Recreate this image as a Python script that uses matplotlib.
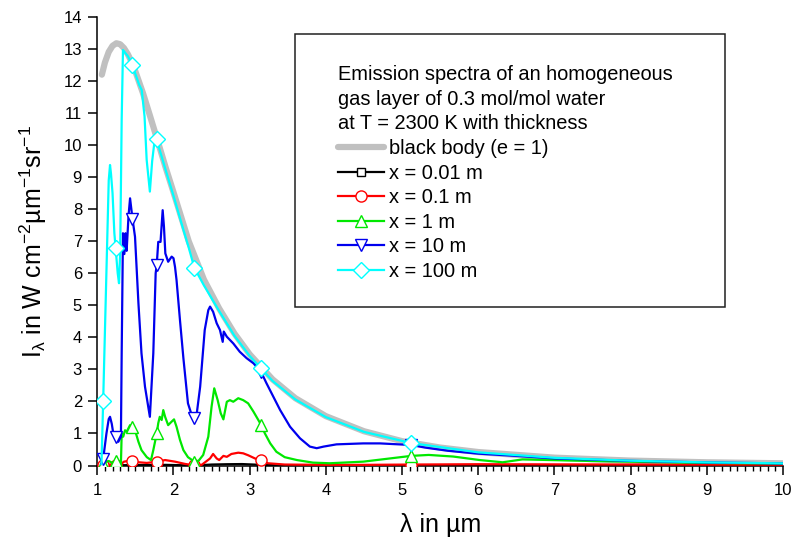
import numpy as np
import matplotlib
matplotlib.use("Agg")
import matplotlib.pyplot as plt
from matplotlib.patches import Rectangle
from matplotlib.ticker import MultipleLocator

plt.rcParams['font.family'] = ['Liberation Sans', 'DejaVu Sans']
plt.rcParams['mathtext.fontset'] = 'custom'
plt.rcParams['mathtext.rm'] = 'Liberation Sans'
plt.rcParams['mathtext.it'] = 'Liberation Sans:italic'
plt.rcParams['mathtext.bf'] = 'Liberation Sans:bold'

# ---------------- data ----------------
mark_lam = [1.077, 1.24, 1.462, 1.78, 2.274, 3.15, 5.12]

lam_bb = [1.06, 1.10, 1.15, 1.20, 1.25, 1.30, 1.35, 1.40, 1.45, 1.50, 1.60, 1.70,
          1.80, 1.90, 2.00, 2.20, 2.40, 2.60, 2.80, 3.00, 3.30, 3.60, 4.00, 4.50,
          5.00, 5.50, 6.00, 7.00, 8.00, 9.00, 10.0]
I_bb = [12.20, 12.58, 12.91, 13.10, 13.18, 13.15, 13.03, 12.84, 12.60, 12.30, 11.62, 10.85,
        10.07, 9.28, 8.53, 7.00, 5.80, 4.90, 4.12, 3.47, 2.69, 2.10, 1.54, 1.07,
        0.76, 0.56, 0.42, 0.245, 0.153, 0.100, 0.069]

lam_001 = [1.05, 1.077, 1.24, 1.35, 1.462, 1.78, 1.90, 2.274, 2.50, 2.70, 2.90, 3.15,
           3.50, 5.12, 7.0, 10.0]
I_001 = [0.0, 0.0, 0.0, 0.01, 0.015, 0.015, 0.02, 0.0, 0.03, 0.04, 0.045, 0.02,
         0.0, 0.0, 0.0, 0.0]

lam_01 = [1.05, 1.077, 1.15, 1.24, 1.30, 1.35, 1.40, 1.462, 1.55, 1.65, 1.78, 1.89,
          2.02, 2.15, 2.23, 2.274, 2.37, 2.48, 2.52, 2.567, 2.60, 2.655, 2.70, 2.76,
          2.85, 2.915, 2.98, 3.07, 3.15, 3.24, 3.46, 4.0, 4.5, 5.12, 6.0, 7.0, 8.0, 10.0]
I_01 = [0.0, 0.01, 0.03, 0.02, 0.02, 0.12, 0.14, 0.13, 0.10, 0.08, 0.12, 0.17,
        0.12, 0.05, 0.02, 0.02, 0.02, 0.22, 0.36, 0.22, 0.17, 0.30, 0.27, 0.36,
        0.40, 0.38, 0.32, 0.22, 0.16, 0.07, 0.03, 0.02, 0.02, 0.03, 0.04, 0.035, 0.03, 0.025]

lam_1 = [1.05, 1.077, 1.12, 1.15, 1.20, 1.24, 1.28, 1.31, 1.32, 1.34, 1.364, 1.385,
         1.43, 1.462, 1.495, 1.54, 1.58, 1.65, 1.705, 1.735, 1.78, 1.80, 1.82, 1.845,
         1.866, 1.89, 1.93, 1.976, 2.007, 2.04, 2.085, 2.13, 2.19, 2.274, 2.33, 2.39,
         2.457, 2.50, 2.535, 2.58, 2.62, 2.655, 2.70, 2.74, 2.785, 2.85, 2.915, 2.98,
         3.05, 3.15, 3.20, 3.27, 3.35, 3.46, 3.62, 3.83, 4.05, 4.49, 4.84, 5.12,
         5.35, 5.67, 6.02, 6.32, 6.58, 7.5, 8.0, 9.0, 10.0]
I_1 = [0.0, 0.05, 0.12, 0.14, 0.08, 0.15, 0.10, 0.05, 1.0, 0.9, 1.1, 1.05,
       1.26, 1.19, 1.10, 0.74, 0.48, 0.26, 0.17, 0.48, 1.0, 1.32, 1.52, 1.42,
       1.73, 1.52, 1.26, 1.37, 1.44, 1.21, 0.80, 0.48, 0.26, 0.12, 0.15, 0.33,
       0.90, 1.84, 2.41, 2.04, 1.63, 1.44, 1.99, 2.04, 1.99, 2.10, 2.04, 1.94,
       1.68, 1.27, 1.0, 0.69, 0.43, 0.26, 0.17, 0.09, 0.07, 0.12, 0.22, 0.30,
       0.33, 0.28, 0.17, 0.10, 0.19, 0.14, 0.12, 0.08, 0.06]

lam_10 = [1.05, 1.077, 1.12, 1.15, 1.167, 1.19, 1.21, 1.24, 1.276, 1.31,
          1.32, 1.337, 1.355, 1.37, 1.385, 1.41, 1.43, 1.462, 1.495, 1.54,
          1.58, 1.626, 1.69, 1.735, 1.766, 1.78, 1.80, 1.83, 1.858, 1.875,
          1.893, 1.93, 1.976, 2.00, 2.02, 2.04, 2.085, 2.13, 2.19, 2.26,
          2.274, 2.30, 2.35, 2.41, 2.457, 2.48, 2.52, 2.567, 2.61, 2.646,
          2.66, 2.70, 2.785, 2.87, 2.96, 3.05, 3.15, 3.22, 3.31, 3.40,
          3.53, 3.66, 3.79, 3.88, 3.97, 4.14, 4.49, 4.71, 5.12, 5.30,
          5.60, 6.00, 6.50, 7.00, 8.00, 9.00, 10.0]
I_10 = [0.05, 0.20, 1.0, 1.45, 1.52, 1.3, 1.0, 0.90, 0.74, 0.90,
        3.5, 7.25, 6.6, 7.25, 6.7, 7.8, 8.34, 7.70, 7.14, 5.06,
        3.50, 2.46, 1.52, 3.50, 6.0, 6.26, 6.98, 6.98, 7.97, 7.45,
        6.62, 6.36, 6.52, 6.47, 6.20, 5.79, 4.54, 3.35, 1.94, 1.42,
        1.47, 1.52, 2.46, 4.23, 4.85, 4.96, 4.80, 4.44, 4.23, 3.86,
        4.18, 4.02, 3.81, 3.55, 3.35, 3.19, 2.92, 2.57, 2.15, 1.73,
        1.21, 0.85, 0.59, 0.54, 0.59, 0.66, 0.69, 0.69, 0.64, 0.56,
        0.46, 0.37, 0.30, 0.22, 0.145, 0.095, 0.065]

lam_100 = [1.055, 1.077, 1.15, 1.167, 1.18, 1.20, 1.224, 1.24, 1.268, 1.285,
           1.30, 1.32, 1.337, 1.40, 1.462, 1.50, 1.55, 1.583, 1.62, 1.648,
           1.69, 1.72, 1.75, 1.78, 1.80, 1.90, 2.00, 2.10, 2.20, 2.274,
           2.40, 2.60, 2.80, 3.00, 3.15, 3.30, 3.60, 4.00, 4.50, 5.12,
           6.00, 7.00, 8.00, 9.00, 10.0]
I_100 = [0.05, 2.0, 8.9, 9.38, 9.1, 8.5, 7.25, 6.8, 6.0, 5.69,
         6.6, 10.8, 12.97, 12.78, 12.50, 12.22, 11.88, 11.72, 10.9, 9.54,
         8.55, 9.5, 10.1, 10.2, 10.0, 9.2, 8.42, 7.6, 6.8, 6.17,
         5.62, 4.82, 4.05, 3.42, 3.03, 2.64, 2.06, 1.51, 1.05, 0.70,
         0.41, 0.24, 0.15, 0.098, 0.067]

labels = ["black body (e = 1)", "x = 0.01 m", "x = 0.1 m", "x = 1 m",
          "x = 10 m", "x = 100 m"]
legend_title = ("Emission spectra of an homogeneous\n"
                "gas layer of 0.3 mol/mol water\n"
                "at T = 2300 K with thickness")

# ---------------- figure ----------------
fig = plt.figure(figsize=(7.95, 5.46), dpi=100)
ax = fig.add_axes([97.3 / 795, 1 - 465.5 / 546, (783 - 97.3) / 795, (465.5 - 17) / 546])


def mark_idx(lam):
    lam = np.asarray(lam)
    return [int(np.argmin(np.abs(lam - m))) for m in mark_lam]


ax.plot(lam_bb, I_bb, color='#c0c0c0', lw=4.5, solid_capstyle='round',
        label=labels[0], zorder=2)

series = [
    (lam_001, I_001, 'black', 's', 6, labels[1]),
    (lam_01, I_01, '#ff0000', 'o', 8, labels[2]),
    (lam_1, I_1, '#00e800', '^', 9, labels[3]),
    (lam_10, I_10, '#0000ee', 'v', 9, labels[4]),
    (lam_100, I_100, '#00ffff', 'D', 8, labels[5]),
]
for i, (lx, ly, col, mk, ms, lab) in enumerate(series):
    ax.plot(lx, ly, color=col, lw=1.6, marker=mk, ms=ms, mfc='white', mec=col,
            mew=1.0, markevery=mark_idx(lx), label=lab, zorder=3 + i)

ax.set_xlim(1, 10)
ax.set_ylim(0, 14)
ax.xaxis.set_major_locator(MultipleLocator(1))
ax.xaxis.set_minor_locator(MultipleLocator(0.1))
ax.yaxis.set_major_locator(MultipleLocator(1))

for s in ['top', 'right']:
    ax.spines[s].set_visible(False)
for s in ['left', 'bottom']:
    ax.spines[s].set_linewidth(1.1)

ax.tick_params(axis='both', which='major', direction='out', length=6.5, width=1.1,
               labelsize=12, pad=4.5)
ax.tick_params(axis='x', which='major', pad=6)
ax.tick_params(axis='x', which='minor', direction='out', length=3.5, width=1.0)
ax.tick_params(axis='y', which='minor', left=False)

ax.set_xlabel("λ in µm", fontsize=18)
ax.xaxis.set_label_coords(0.5, -0.106)
ax.set_ylabel(r"I$_{\mathrm{λ}}$ in W cm$^{\mathrm{-2}}$µm$^{\mathrm{-1}}$sr$^{\mathrm{-1}}$",
              fontsize=18)
ax.yaxis.set_label_coords(-0.07, 0.5)

leg = ax.legend(loc='upper left', bbox_to_anchor=(338 / 795, 1 - 65 / 546),
                bbox_transform=fig.transFigure, frameon=False, fontsize=14.4,
                title=legend_title, title_fontsize=14.4, alignment='left',
                borderpad=0, borderaxespad=0, handlelength=2.3, handletextpad=0.25,
                labelspacing=0.28, numpoints=1)
leg.get_title().set_linespacing(1.38)

fig.add_artist(Rectangle((295.3 / 795, 1 - 307 / 546), (725 - 295.3) / 795, 273 / 546,
                         transform=fig.transFigure, fill=False, edgecolor='#202020',
                         lw=1.1))

fig.savefig("out.png", dpi=100)
